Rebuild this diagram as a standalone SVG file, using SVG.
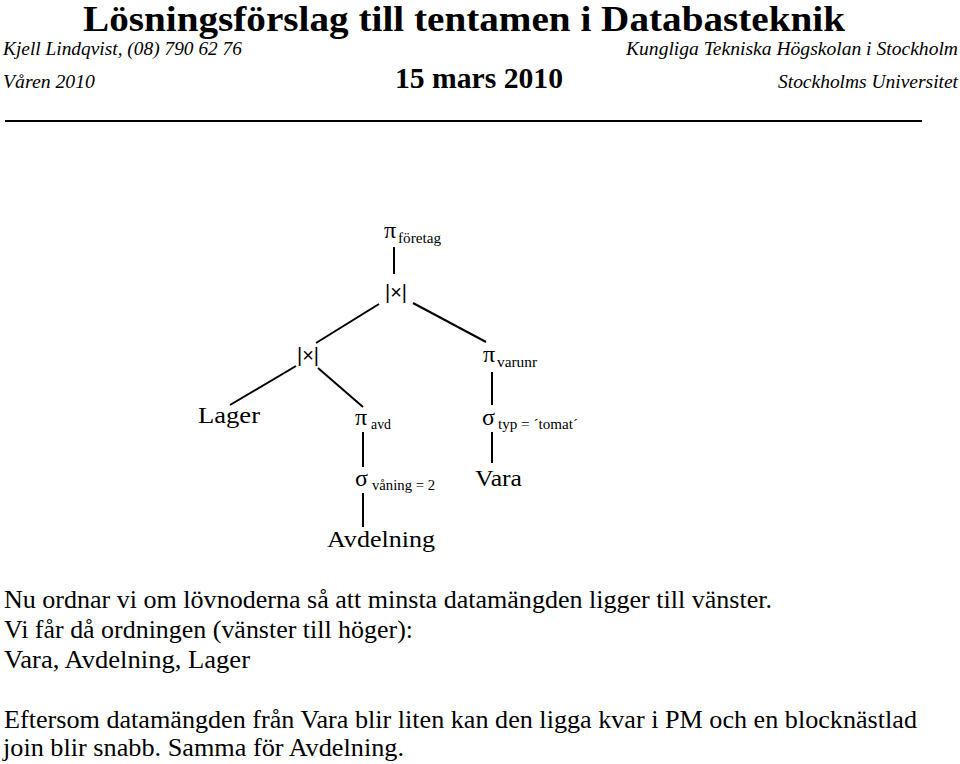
<svg xmlns="http://www.w3.org/2000/svg" width="960" height="764" viewBox="0 0 960 764">
<style>
text{font-family:'Liberation Serif','Times New Roman','DejaVu Serif',serif;fill:#000}
.t{font-weight:bold;font-size:35px}
.h{font-style:italic;font-size:18px}
.d{font-weight:bold;font-size:30px}
.n{font-size:24px}
.s{font-size:14px}
.op{font-family:'Liberation Sans',Arial,sans-serif;font-size:20px}
.b{font-size:25px}
.c line{stroke:#000;stroke-width:2}
</style>
<rect width="960" height="764" fill="#fff"/>
<g id="header">
<text class="t" x="83" y="31" textLength="762" lengthAdjust="spacingAndGlyphs">Lösningsförslag till tentamen i Databasteknik</text>
<text class="h" x="3" y="55" textLength="239" lengthAdjust="spacingAndGlyphs">Kjell Lindqvist, (08) 790 62 76</text>
<text class="h" x="626" y="55" textLength="332" lengthAdjust="spacingAndGlyphs">Kungliga Tekniska Högskolan i Stockholm</text>
<text class="h" x="3" y="88" textLength="92" lengthAdjust="spacingAndGlyphs">Våren 2010</text>
<text class="d" x="395" y="88" textLength="168" lengthAdjust="spacingAndGlyphs">15 mars 2010</text>
<text class="h" x="778" y="88" textLength="180" lengthAdjust="spacingAndGlyphs">Stockholms Universitet</text>
<line x1="5" y1="121" x2="922" y2="121" stroke="#000" stroke-width="2"/>
</g>
<g class="c" id="connectors">
<line x1="394" y1="247" x2="394" y2="274"/>
<line x1="379" y1="304" x2="316" y2="343"/>
<line x1="413" y1="303" x2="486" y2="342"/>
<line x1="296" y1="366" x2="230" y2="405"/>
<line x1="318" y1="368" x2="363" y2="407"/>
<line x1="492" y1="372" x2="492" y2="405"/>
<line x1="363" y1="432" x2="363" y2="467"/>
<line x1="363" y1="493" x2="363" y2="527"/>
<line x1="492" y1="432" x2="492" y2="463"/>
</g>
<g id="pi-foretag"><text class="n" x="384" y="238">π</text><text class="s" x="398" y="243" textLength="43" lengthAdjust="spacingAndGlyphs">företag</text></g>
<g id="join1"><text class="op" x="385" y="299" textLength="22" lengthAdjust="spacingAndGlyphs">|×|</text></g>
<g id="join2"><text class="op" x="297" y="362" textLength="22" lengthAdjust="spacingAndGlyphs">|×|</text></g>
<g id="pi-varunr"><text class="n" x="483" y="362">π</text><text class="s" x="497" y="367" textLength="40" lengthAdjust="spacingAndGlyphs">varunr</text></g>
<g id="lager"><text class="n" x="198" y="423" textLength="62" lengthAdjust="spacingAndGlyphs">Lager</text></g>
<g id="pi-avd"><text class="n" x="355" y="425">π</text><text class="s" x="371" y="429" textLength="20" lengthAdjust="spacingAndGlyphs">avd</text></g>
<g id="sigma-typ"><text class="n" x="482" y="425">σ</text><text class="s" x="498" y="429" textLength="80" lengthAdjust="spacingAndGlyphs">typ = ´tomat´</text></g>
<g id="sigma-vaning"><text class="n" x="355" y="486">σ</text><text class="s" x="372" y="490" textLength="63" lengthAdjust="spacingAndGlyphs">våning = 2</text></g>
<g id="vara"><text class="n" x="475" y="486" textLength="47" lengthAdjust="spacingAndGlyphs">Vara</text></g>
<g id="avdelning"><text class="n" x="327" y="547" textLength="108" lengthAdjust="spacingAndGlyphs">Avdelning</text></g>
<g id="body">
<text class="b" x="4" y="608" textLength="768" lengthAdjust="spacingAndGlyphs">Nu ordnar vi om lövnoderna så att minsta datamängden ligger till vänster.</text>
<text class="b" x="4" y="638" textLength="409" lengthAdjust="spacingAndGlyphs">Vi får då ordningen (vänster till höger):</text>
<text class="b" x="4" y="668" textLength="246" lengthAdjust="spacingAndGlyphs">Vara, Avdelning, Lager</text>
<text class="b" x="4" y="728" textLength="913" lengthAdjust="spacingAndGlyphs">Eftersom datamängden från Vara blir liten kan den ligga kvar i PM och en blocknästlad</text>
<text class="b" x="3" y="756" textLength="401" lengthAdjust="spacingAndGlyphs">join blir snabb. Samma för Avdelning.</text>
</g>
</svg>
